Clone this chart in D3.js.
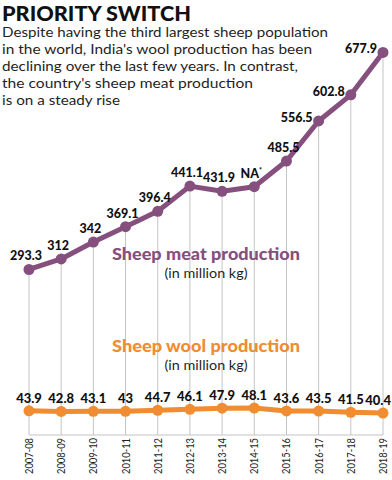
<!DOCTYPE html>
<html>
<head>
<meta charset="utf-8">
<script src="https://cdn.jsdelivr.net/npm/d3@7"></script>
<style>
  body { margin: 0; background: #fff; }
  svg { display: block; }
</style>
</head>
<body>
<svg id="chart" width="392" height="480"></svg>
<script>
// Priority switch -- sheep meat vs sheep wool production

// -- Data -- //
const years = ["2007-08", "2008-09", "2009-10", "2010-11", "2011-12", "2012-13",
  "2013-14", "2014-15", "2015-16", "2016-17", "2017-18", "2018-19"];
// 2014-15 meat value is marked NA in the source, point drawn at its plotted height
const meatValues = [293.3, 312, 342, 369.1, 396.4, 441.1, 431.9, 440, 485.5, 556.5, 602.8, 677.9];
const meatLabels = ["293.3", "312", "342", "369.1", "396.4", "441.1", "431.9", "NA", "485.5", "556.5", "602.8", "677.9"];
const woolValues = [43.9, 42.8, 43.1, 43, 44.7, 46.1, 47.9, 48.1, 43.6, 43.5, 41.5, 40.4];
const subtitleLines = [
  "Despite having the third largest sheep population",
  "in the world, India's wool production has been",
  "declining over the last few years. In contrast,",
  "the country's sheep meat production",
  "is on a steady rise",
];

// -- Styles -- //
const colours = {
  meat: "#86507e",
  wool: "#f08c31",
  grid: "#c4c4c4",
  text: "#1f1f1f",
};
const bodyFont = "Lato, 'Open Sans', sans-serif";
const boldFont = "Lato, 'Open Sans', sans-serif";

const svg = d3.select("#chart");

// -- Scales -- //
const x = d3.scalePoint().domain(years).range([29, 383]);
const yMeat = d3.scaleLinear().domain([0, 700]).range([435, 40]);
const yWool = d3.scaleLinear().domain([40, 50]).range([413.3, 406.8]);
const baseY = 435;

// -- Title and intro text -- //
svg.append("text")
    .attr("x", 2)
    .attr("y", 20.8)
    .attr("font-family", boldFont)
    .attr("font-weight", 900)
    .attr("font-size", 21)
    .attr("textLength", 189)
    .attr("lengthAdjust", "spacingAndGlyphs")
    .attr("fill", "#111")
    .text("PRIORITY SWITCH");

const subWidths = [326, 310, 296, 251, 118];
svg.append("g")
  .selectAll("text")
  .data(subtitleLines)
  .join("text")
    .attr("x", 2)
    .attr("y", (d, i) => 37 + i * 17)
    .attr("font-family", bodyFont)
    .attr("font-size", 14)
    .attr("textLength", (d, i) => subWidths[i])
    .attr("lengthAdjust", "spacingAndGlyphs")
    .attr("fill", colours.text)
    .text(d => d);

// -- Gridlines -- //
const grid = svg.append("g")
    .attr("stroke", colours.grid)
    .attr("stroke-width", 1);
grid.selectAll("line")
  .data(years)
  .join("line")
    .attr("x1", d => x(d))
    .attr("x2", d => x(d))
    .attr("y1", (d, i) => yMeat(meatValues[i]))
    .attr("y2", baseY);
grid.append("line")
    .attr("x1", x(years[0]))
    .attr("x2", x(years[years.length - 1]))
    .attr("y1", baseY)
    .attr("y2", baseY);

// -- Year labels (rotated) -- //
svg.append("g")
  .selectAll("text")
  .data(years)
  .join("text")
    .attr("transform", d => `translate(${x(d)},${baseY + 3}) rotate(-90)`)
    .attr("text-anchor", "end")
    .attr("dy", "0.35em")
    .attr("font-family", bodyFont)
    .attr("font-size", 11.5)
    .attr("textLength", 36)
    .attr("lengthAdjust", "spacingAndGlyphs")
    .attr("fill", colours.text)
    .text(d => d);

// -- Series labels -- //
function seriesTitle(title, colour, y) {
  svg.append("text")
      .attr("x", 206)
      .attr("y", y)
      .attr("text-anchor", "middle")
      .attr("font-family", boldFont)
      .attr("font-weight", 900)
      .attr("font-size", 17)
      .attr("textLength", 188)
      .attr("lengthAdjust", "spacingAndGlyphs")
      .attr("fill", colour)
      .text(title);
  svg.append("text")
      .attr("x", 206)
      .attr("y", y + 18)
      .attr("text-anchor", "middle")
      .attr("font-family", bodyFont)
      .attr("font-size", 13.5)
      .attr("textLength", 83)
      .attr("lengthAdjust", "spacingAndGlyphs")
      .attr("fill", colours.text)
      .text("(in million kg)");
}
seriesTitle("Sheep meat production", colours.meat, 260);
seriesTitle("Sheep wool production", colours.wool, 352);

// -- Lines and points -- //
function drawSeries(values, yScale, colour) {
  const line = d3.line()
      .x((d, i) => x(years[i]))
      .y(d => yScale(d));
  svg.append("path")
      .datum(values)
      .attr("fill", "none")
      .attr("stroke", colour)
      .attr("stroke-width", 5)
      .attr("stroke-linejoin", "round")
      .attr("d", line);
  svg.append("g")
      .attr("fill", colour)
    .selectAll("circle")
    .data(values)
    .join("circle")
      .attr("cx", (d, i) => x(years[i]))
      .attr("cy", d => yScale(d))
      .attr("r", 5.5);
}
drawSeries(meatValues, yMeat, colours.meat);
drawSeries(woolValues, yWool, colours.wool);

// -- Value labels -- //
// the steep tail of the meat line gets its labels to the left of the point
const leftLabelFrom = 9;
const meatText = svg.append("g")
    .attr("font-family", boldFont)
    .attr("font-weight", 900)
    .attr("font-size", 12.5)
    .attr("fill", "#111")
  .selectAll("text")
  .data(meatLabels)
  .join("text")
    .attr("x", (d, i) => i >= leftLabelFrom ? x(years[i]) - 6 : x(years[i]) - 3)
    .attr("y", (d, i) => i >= leftLabelFrom ? yMeat(meatValues[i]) + 1 : yMeat(meatValues[i]) - 9)
    .attr("text-anchor", (d, i) => i >= leftLabelFrom ? "end" : "middle")
    .text(d => d);
meatText.filter(d => d === "NA")
  .append("tspan")
    .attr("font-size", 7)
    .attr("dy", -5)
    .text("*");

const lastWool = woolValues.length - 1;
svg.append("g")
    .attr("font-family", boldFont)
    .attr("font-weight", 900)
    .attr("font-size", 13)
    .attr("fill", "#111")
  .selectAll("text")
  .data(woolValues)
  .join("text")
    .attr("x", (d, i) => i === lastWool ? 391 : x(years[i]))
    .attr("y", d => yWool(d) - 8)
    .attr("text-anchor", (d, i) => i === lastWool ? "end" : "middle")
    .text(d => d);
</script>
</body>
</html>
